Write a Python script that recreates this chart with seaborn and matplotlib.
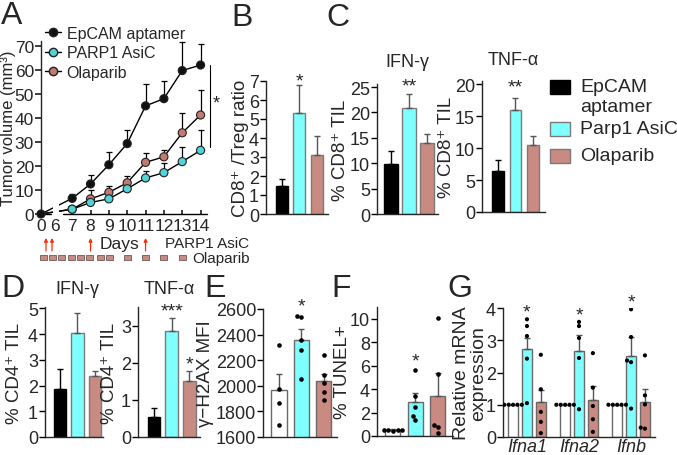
import numpy as np
import pandas as pd
import matplotlib
matplotlib.use('Agg')
import matplotlib.pyplot as plt
import matplotlib.transforms as mtransforms
from matplotlib.lines import Line2D
from matplotlib.patches import Rectangle
import seaborn as sns

# values
groups = ['EpCAM aptamer', 'PARP1 AsiC', 'Olaparib']
days = [0, 7, 8, 9, 10, 11, 12, 13, 14]
tick_days = [0, 6, 7, 8, 9, 10, 11, 12, 13, 14]
vol_epcam = [0, 6.5, 12.5, 20.5, 29.3, 45, 48, 59.7, 62]
err_epcam = [0, 2, 3.8, 5.5, 5.7, 9, 7.5, 11.8, 8.7]
vol_parp1 = [0, 2, 4.8, 6.3, 10.5, 15, 17.2, 21.8, 26.5]
err_parp1 = [0, 0.5, 1.5, 1.5, 2.5, 3, 4, 6.2, 8.5]
vol_olap = [0, 2, 6.3, 9, 13, 21.5, 23.8, 33.8, 41.2]
err_olap = [0, 0.5, 3.7, 2.8, 3, 3.8, 2.7, 8.2, 10.4]
asic_doses = [5.57, 5.9, 8.0, 11.0]
olap_doses = [5.42, 5.91, 6.40, 6.95, 7.43, 7.92, 8.52, 9.01, 10.0, 11.0, 12.0, 13.0]

cd8_treg = [1.5, 5.3, 3.1]
cd8_treg_err = [0.35, 1.5, 1.0]
cd8_ifng = [9.8, 20.9, 13.9]
cd8_ifng_err = [2.6, 2.8, 1.9]
cd8_tnfa = [6.4, 16.0, 10.5]
cd8_tnfa_err = [1.8, 1.9, 1.4]
cd4_ifng = [1.85, 4.05, 2.38]
cd4_ifng_err = [0.8, 0.77, 0.17]
cd4_tnfa = [0.55, 2.85, 1.52]
cd4_tnfa_err = [0.23, 0.35, 0.26]

h2ax_ctrl = [2319, 1975, 1866, 1696]
h2ax_parp1 = [2545, 2535, 2360, 2280, 2050]
h2ax_olap = [2241, 2087, 2020, 1949, 1889]
h2ax_err = [130, 90, 55]

tunel_ctrl = [0.45, 0.5, 0.55, 0.55, 0.5]
tunel_parp1 = [5.6, 3.4, 2.5, 1.7, 1.35]
tunel_olap = [10.05, 5.3, 0.93, 0.75, 0.22]
tunel_err = [0.08, 0.75, 1.9]

genes = ['Ifna1', 'Ifna2', 'Ifnb']
mrna_ctrl = [1.0, 1.0, 1.0, 1.0, 1.0]
mrna_parp1 = {'Ifna1': [3.65, 3.44, 3.13, 2.43, 1.05],
              'Ifna2': [3.57, 3.44, 3.07, 2.45, 0.86],
              'Ifnb': [3.96, 3.10, 2.37, 2.32, 0.88]}
mrna_olap = {'Ifna1': [2.55, 1.48, 0.78, 0.47, 0.12],
             'Ifna2': [2.6, 1.53, 0.96, 0.55, 0.16],
             'Ifnb': [2.53, 1.29, 1.01, 0.29, 0.26]}
mrna_err_parp1 = [0.32, 0.5, 0.57]
mrna_err_olap = [0.37, 0.41, 0.42]

legend_labels = ['EpCAM\naptamer', 'Parp1 AsiC', 'Olaparib']

CYAN = '#80ffff'
ROSE = '#c98a82'
bar_colors = ['black', CYAN, ROSE]
bar_edges = ['black', '#7a7a7a', '#7a7a7a']
dot_colors = ['white', CYAN, ROSE]
marker_colors = {'EpCAM aptamer': '#111111', 'PARP1 AsiC': '#52d3d8', 'Olaparib': '#c07a72'}
TICK = 13
YLAB = 13.5

sns.set_theme(style='ticks')
plt.rcParams['font.family'] = ['Liberation Sans', 'DejaVu Sans']
plt.rcParams['axes.linewidth'] = 1.0

W, H = 677, 456
fig = plt.figure(figsize=(W / 100, H / 100), dpi=100)


def rect(box):
    l, t, r, b = box
    return [l / W, 1 - b / H, (r - l) / W, (b - t) / H]


def style(ax, box, ylabel, right_px, yticks, ylim, size=YLAB):
    sns.despine(ax=ax)
    ax.set_ylim(*ylim)
    ax.set_yticks(yticks)
    ax.tick_params(axis='y', labelsize=TICK, length=4, width=1, pad=1, color='black')
    ax.set_ylabel(ylabel, fontsize=size, linespacing=1.0)
    l, t, r, b = box
    ax.yaxis.set_label_coords((right_px - l) / (r - l), 0.5)


def stars(ax, items):
    for x, y, s in items:
        ax.text(x, y, s, ha='center', va='center', fontsize=14, clip_on=False)


def bar_panel(box, values, errs, ylim, yticks, xlim, ylabel, right_px, width=0.7):
    ax = fig.add_axes(rect(box))
    d = pd.DataFrame({'group': groups, 'value': values})
    sns.barplot(data=d, x='group', y='value', hue='group', order=groups, hue_order=groups,
                palette=bar_colors, saturation=1, width=width, legend=False, linewidth=1, ax=ax)
    for p, ec in zip(ax.patches, bar_edges):
        p.set_edgecolor(ec)
    for i, (v, e) in enumerate(zip(values, errs)):
        ax.errorbar(i, v, yerr=[[0], [e]], fmt='none', ecolor='black' if i == 0 else '#555555',
                    capsize=2.5, elinewidth=1, capthick=1)
    ax.set_xlim(*xlim)
    ax.set_xticks([])
    ax.set_xlabel('')
    style(ax, box, ylabel, right_px, yticks, ylim)
    return ax


def dot_panel(box, samples, errs, ylim, yticks, xlim, ylabel, right_px):
    ax = fig.add_axes(rect(box))
    d = pd.DataFrame({'group': np.concatenate([[g] * len(s) for g, s in zip(groups, samples)]),
                      'value': np.concatenate(samples)})
    sns.barplot(data=d, x='group', y='value', hue='group', order=groups, hue_order=groups,
                palette=dot_colors, saturation=1, width=0.67, errorbar=None, legend=False,
                linewidth=1, ax=ax)
    for p in ax.patches:
        p.set_edgecolor('#6a6a6a')
    means = d.groupby('group')['value'].mean().reindex(groups)
    for i, (v, e) in enumerate(zip(means, errs)):
        ax.errorbar(i, v, yerr=[[0], [e]], fmt='none', ecolor='#555555',
                    capsize=2.5, elinewidth=1, capthick=1)
    sns.swarmplot(data=d, x='group', y='value', order=groups, color='black', size=3.3, ax=ax)
    ax.set_xlim(*xlim)
    ax.set_xticks([])
    ax.set_xlabel('')
    style(ax, box, ylabel, right_px, yticks, ylim)
    return ax


# ---------------- A: tumour growth ----------------
def day_pos(d):
    d = np.asarray(d, dtype=float)
    return np.where(d <= 6, 5.3 + 0.125 * d, d)


boxA = (41, 42, 207, 215)
axA = fig.add_axes(rect(boxA))
tv = pd.DataFrame({'day': days * 3,
                   'volume': vol_epcam + vol_parp1 + vol_olap,
                   'err': err_epcam + err_parp1 + err_olap,
                   'group': np.repeat(groups, len(days))})
tv['pos'] = day_pos(tv['day'])
sns.lineplot(data=tv, x='pos', y='volume', units='group', estimator=None, color='black',
             lw=1, ax=axA, zorder=2)
axA.axvspan(5.93, 6.3, ymax=0.1, color='white', lw=0, zorder=2.2)
for g in groups:
    sub = tv[(tv.group == g) & (tv.day > 0)]
    axA.errorbar(sub.pos, sub.volume, yerr=[np.zeros(len(sub)), sub.err], fmt='none',
                 ecolor='black', capsize=2.5, elinewidth=0.9, capthick=0.9, zorder=1.5)
pts = tv[(tv.day > 0) | (tv.group == groups[0])]
pts = pd.concat([pts[pts.group == g] for g in [groups[0], groups[2], groups[1]]])
sns.scatterplot(data=pts, x='pos', y='volume', hue='group', palette=marker_colors, s=34,
                edgecolor='#222222', linewidth=0.8, legend=False, zorder=4, clip_on=False, ax=axA)
axA.set_xlim(5.3, 14.35)
axA.set_ylim(0, 72)
axA.set_yticks(range(0, 71, 10))
axA.set_xticks(day_pos(tick_days))
axA.set_xticklabels([str(d) for d in tick_days])
axA.tick_params(axis='x', labelsize=12.5, direction='in', length=3, pad=3)
axA.tick_params(axis='y', labelsize=12.5, length=4, pad=1)
sns.despine(ax=axA)
axA.spines['bottom'].set_visible(False)
xa = lambda p: (p - 5.3) / (14.35 - 5.3)
axA.plot([0, xa(5.85)], [0, 0], color='black', lw=1, transform=axA.transAxes, clip_on=False)
axA.plot([xa(6.5), 1], [0, 0], color='black', lw=1, transform=axA.transAxes, clip_on=False)
axA.set_xlabel('')
axA.set_ylabel('Tumor volume (mm³)', fontsize=12)
axA.yaxis.set_label_coords((16 - 41) / (207 - 41), 0.5)
axA.plot([14.5, 14.5], [28, 62], color='black', lw=0.8, clip_on=False)
axA.text(14.85, 46, '*', fontsize=13, ha='center', va='center', clip_on=False)

hA = [Line2D([], [], color='black', lw=1, marker='o', markersize=6, markerfacecolor=marker_colors[g],
             markeredgecolor='#222222') for g in groups]
fig.legend(hA, groups, loc='upper left', bbox_to_anchor=(45 / W, 1 - 27 / H), frameon=False,
           fontsize=11.5, handlelength=1.0, handletextpad=0.35, labelspacing=0.28,
           borderpad=0, borderaxespad=0)

# dosing schedule under A
trans = mtransforms.blended_transform_factory(axA.transData, fig.transFigure)
for x in asic_doses:
    axA.annotate('', xy=(x, 1 - 239 / H), xytext=(x, 1 - 252 / H), xycoords=trans, textcoords=trans,
                 arrowprops=dict(arrowstyle='-|>', color='#ff2a00', lw=0.9, mutation_scale=5,
                                 shrinkA=0, shrinkB=0))
for x in olap_doses:
    axA.add_patch(Rectangle((x - 0.19, 1 - 261 / H), 0.38, 5.5 / H, transform=trans, clip_on=False,
                            facecolor=ROSE, edgecolor='#6a5a58', lw=0.6))
fig.text(100 / W, 1 - 245 / H, 'Days', fontsize=12.5, va='center')
fig.text(165 / W, 1 - 244 / H, 'PARP1 AsiC', fontsize=11, va='center')
fig.text(192 / W, 1 - 259 / H, 'Olaparib', fontsize=11, va='center')

# ---------------- B, C ----------------
boxB = (266, 82, 328, 215)
axB = bar_panel(boxB, cd8_treg, cd8_treg_err, (0, 7), range(0, 8), (-0.91, 2.63),
                'CD8⁺ /Treg ratio', 249, width=0.69)
stars(axB, [(1, 7.0, '*')])

boxC1 = (377, 85, 438, 215)
axC1 = bar_panel(boxC1, cd8_ifng, cd8_ifng_err, (0, 25.6), range(0, 26, 5), (-0.78, 2.61),
                 '% CD8⁺ TIL', 349, width=0.78)
axC1.set_title('IFN-γ', fontsize=13, pad=13)
stars(axC1, [(1, 25.2, '**')])

boxC2 = (482, 82, 545, 213)
axC2 = bar_panel(boxC2, cd8_tnfa, cd8_tnfa_err, (0, 20.5), range(0, 21, 5), (-0.91, 2.69),
                 '% CD8⁺ TIL', 455, width=0.67)
axC2.set_title('TNF-α', fontsize=13, pad=12)
stars(axC2, [(1, 19.6, '**')])

# legend for the bar colours (B-D)
for lab, c, ec, yc in zip(legend_labels, bar_colors, bar_edges, [88, 130, 157]):
    fig.patches.append(Rectangle((550 / W, 1 - (yc + 7) / H), 20 / W, 14 / H, transform=fig.transFigure,
                                 facecolor=c, edgecolor=ec, lw=1))
    fig.text(580 / W, 1 - (yc - 9) / H, lab, fontsize=14, va='top', ha='left', linespacing=1.2)

# ---------------- D ----------------
boxD1 = (45, 308, 103, 438)
axD1 = bar_panel(boxD1, cd4_ifng, cd4_ifng_err, (0, 5.05), range(0, 6), (-0.86, 2.46),
                 '% CD4⁺ TIL', 23, width=0.72)
axD1.set_title('IFN-γ', fontsize=13, pad=10, x=0.55)

boxD2 = (138, 308, 200, 438)
axD2 = bar_panel(boxD2, cd4_tnfa, cd4_tnfa_err, (0, 3.5), range(0, 4), (-0.91, 2.6),
                 '% CD4⁺ TIL', 118, width=0.72)
axD2.set_title('TNF-α', fontsize=13, pad=10)
stars(axD2, [(1, 3.38, '***'), (2, 1.97, '*')])

# ---------------- E, F ----------------
boxE = (263, 310, 337, 438)
axE = dot_panel(boxE, [h2ax_ctrl, h2ax_parp1, h2ax_olap], h2ax_err, (1600, 2600),
                range(1600, 2601, 200), (-0.71, 2.58), 'γ−H2AX MFI', 214)
stars(axE, [(1, 2620, '*')])

boxF = (377, 308, 453, 437)
axF = dot_panel(boxF, [tunel_ctrl, tunel_parp1, tunel_olap], tunel_err, (0, 11),
                range(0, 11, 2), (-0.71, 2.67), '% TUNEL+', 351)
stars(axF, [(1, 6.4, '*')])

# ---------------- G ----------------
boxG = (503, 309, 655, 438)
axG = fig.add_axes(rect(boxG))
rows = []
for g in genes:
    rows += [(g, groups[0], v) for v in mrna_ctrl]
    rows += [(g, groups[1], v) for v in mrna_parp1[g]]
    rows += [(g, groups[2], v) for v in mrna_olap[g]]
mr = pd.DataFrame(rows, columns=['gene', 'group', 'value'])
sns.barplot(data=mr, x='gene', y='value', hue='group', order=genes, hue_order=groups,
            palette=dot_colors, saturation=1, width=0.81, gap=0.3, errorbar=None,
            legend=False, linewidth=1, ax=axG)
for p in axG.patches:
    p.set_edgecolor('#6a6a6a')
for k, errs in [(1, mrna_err_parp1), (2, mrna_err_olap)]:
    for bar, e in zip(axG.containers[k], errs):
        axG.errorbar(bar.get_x() + bar.get_width() / 2, bar.get_height(), yerr=[[0], [e]],
                     fmt='none', ecolor='#555555', capsize=2, elinewidth=1, capthick=1)
sns.swarmplot(data=mr, x='gene', y='value', hue='group', order=genes, hue_order=groups,
              dodge=True, palette=['black'] * 3, size=3.0, legend=False, warn_thresh=1, ax=axG)
axG.set_xlim(-0.46, 2.46)
axG.set_xticks(range(3))
axG.set_xticklabels(genes, style='italic', fontsize=13)
axG.tick_params(axis='x', length=0, pad=1)
axG.set_xlabel('')
style(axG, boxG, 'Relative mRNA\nexpression', 487, range(0, 5), (0, 4), size=14)
stars(axG, [(0, 3.88, '*'), (1, 3.78, '*'), (2, 4.2, '*')])

# panel letters
for letter, x, y in [('A', 1, 1), ('B', 231, 3), ('C', 326, 3), ('D', 1, 274),
                     ('E', 204, 274), ('F', 331, 274), ('G', 447, 274)]:
    fig.text(x / W, 1 - y / H, letter, fontsize=23, va='top', ha='left')

fig.savefig('out.png', dpi=100)
